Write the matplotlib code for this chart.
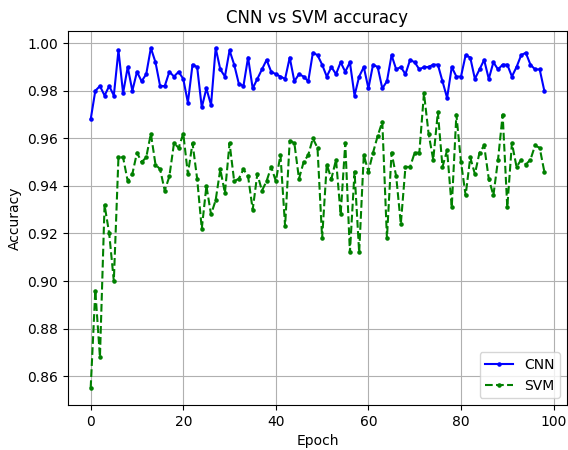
import matplotlib
matplotlib.use("Agg")
import matplotlib.pyplot as plt

# accuracy per epoch
cnn_acc = [0.968, 0.980, 0.982, 0.978, 0.982, 0.978, 0.997, 0.979, 0.990, 0.980,
           0.988, 0.984, 0.987, 0.998, 0.992, 0.982, 0.982, 0.988, 0.986, 0.988,
           0.985, 0.975, 0.991, 0.990, 0.973, 0.981, 0.974, 0.998, 0.989, 0.986,
           0.997, 0.991, 0.983, 0.982, 0.994, 0.981, 0.985, 0.989, 0.993, 0.988,
           0.987, 0.986, 0.985, 0.994, 0.984, 0.987, 0.986, 0.984, 0.996, 0.995,
           0.991, 0.986, 0.990, 0.987, 0.992, 0.988, 0.992, 0.978, 0.986, 0.990,
           0.981, 0.991, 0.990, 0.981, 0.984, 0.995, 0.989, 0.990, 0.987, 0.993,
           0.992, 0.989, 0.990, 0.990, 0.991, 0.991, 0.984, 0.977, 0.990, 0.986,
           0.986, 0.995, 0.994, 0.985, 0.989, 0.993, 0.985, 0.992, 0.989, 0.991,
           0.991, 0.986, 0.990, 0.995, 0.996, 0.991, 0.989, 0.989, 0.980]

svm_acc = [0.855, 0.896, 0.868, 0.932, 0.920, 0.900, 0.952, 0.952, 0.942, 0.945,
           0.954, 0.950, 0.952, 0.962, 0.949, 0.947, 0.938, 0.944, 0.958, 0.956,
           0.962, 0.945, 0.958, 0.943, 0.922, 0.940, 0.928, 0.934, 0.947, 0.937,
           0.958, 0.942, 0.943, 0.947, 0.944, 0.930, 0.945, 0.938, 0.942, 0.948,
           0.942, 0.953, 0.923, 0.959, 0.958, 0.943, 0.950, 0.953, 0.960, 0.956,
           0.918, 0.949, 0.943, 0.951, 0.928, 0.958, 0.912, 0.946, 0.912, 0.953,
           0.946, 0.954, 0.961, 0.967, 0.918, 0.954, 0.944, 0.924, 0.948, 0.948,
           0.954, 0.954, 0.979, 0.962, 0.951, 0.971, 0.948, 0.955, 0.931, 0.970,
           0.950, 0.936, 0.952, 0.945, 0.954, 0.957, 0.943, 0.936, 0.951, 0.970,
           0.931, 0.958, 0.948, 0.951, 0.949, 0.951, 0.957, 0.956, 0.946]

epochs = list(range(len(cnn_acc)))

fig = plt.figure(figsize=(5.68, 4.5), dpi=100)
ax = fig.add_axes([68 / 568, 45 / 450, 499 / 568, 374 / 450])

ax.plot(epochs, cnn_acc, "b.-", markersize=4.5, label="CNN")
ax.plot(epochs, svm_acc, "g.--", markersize=4.5, label="SVM")
ax.set_title("CNN vs SVM accuracy")
ax.set_xlabel("Epoch")
ax.set_ylabel("Accuracy")
ax.grid(True)
ax.legend(loc="lower right")

fig.savefig("out.png", dpi=100)
